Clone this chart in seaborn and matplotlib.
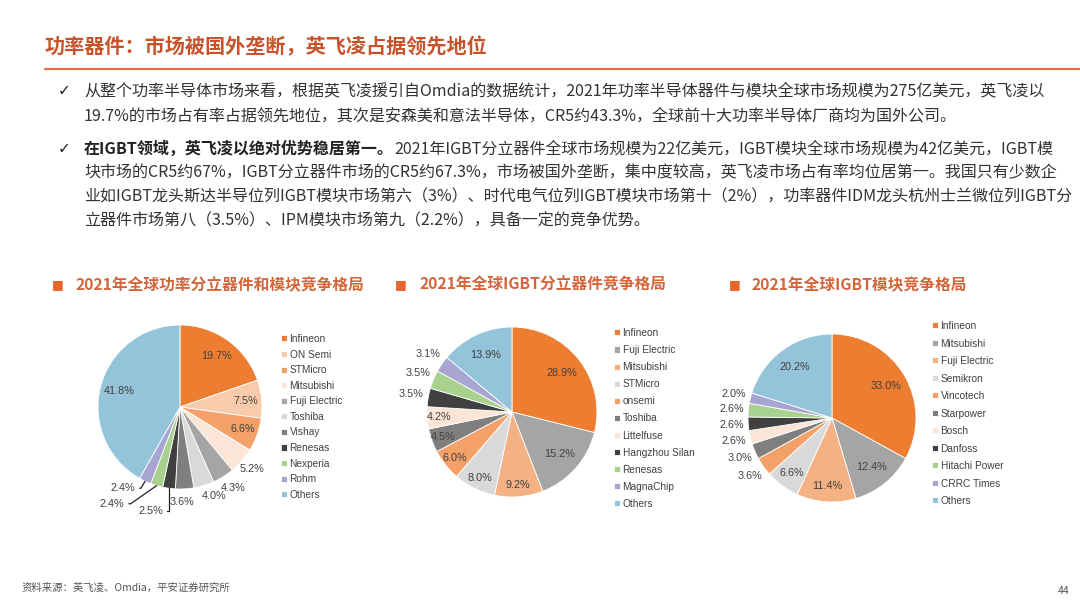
import numpy as np
import matplotlib
matplotlib.use("Agg")
import matplotlib.pyplot as plt
import seaborn as sns

# ---------------- data ----------------
title_text = "功率器件：市场被国外垄断，英飞凌占据领先地位"
bullet1_lines = [
    "从整个功率半导体市场来看，根据英飞凌援引自Omdia的数据统计，2021年功率半导体器件与模块全球市场规模为275亿美元，英飞凌以",
    "19.7%的市场占有率占据领先地位，其次是安森美和意法半导体，CR5约43.3%，全球前十大功率半导体厂商均为国外公司。",
]
bullet2_bold = "在IGBT领域，英飞凌以绝对优势稳居第一。"
bullet2_lines = [
    "2021年IGBT分立器件全球市场规模为22亿美元，IGBT模块全球市场规模为42亿美元，IGBT模",
    "块市场的CR5约67%，IGBT分立器件市场的CR5约67.3%，市场被国外垄断，集中度较高，英飞凌市场占有率均位居第一。我国只有少数企",
    "业如IGBT龙头斯达半导位列IGBT模块市场第六（3%）、时代电气位列IGBT模块市场第十（2%），功率器件IDM龙头杭州士兰微位列IGBT分",
    "立器件市场第八（3.5%）、IPM模块市场第九（2.2%），具备一定的竞争优势。",
]
chart_titles = [
    "2021年全球功率分立器件和模块竞争格局",
    "2021年全球IGBT分立器件竞争格局",
    "2021年全球IGBT模块竞争格局",
]

cats1 = ["Infineon", "ON Semi", "STMicro", "Mitsubishi", "Fuji Electric", "Toshiba",
         "Vishay", "Renesas", "Nexperia", "Rohm", "Others"]
vals1 = [19.7, 7.5, 6.6, 5.2, 4.3, 4.0, 3.6, 2.5, 2.4, 2.4, 41.8]

cats2 = ["Infineon", "Fuji Electric", "Mitsubishi", "STMicro", "onsemi", "Toshiba",
         "Littelfuse", "Hangzhou Silan", "Renesas", "MagnaChip", "Others"]
vals2 = [28.9, 15.2, 9.2, 8.0, 6.0, 4.5, 4.2, 3.5, 3.5, 3.1, 13.9]

cats3 = ["Infineon", "Mitsubishi", "Fuji Electric", "Semikron", "Vincotech", "Starpower",
         "Bosch", "Danfoss", "Hitachi Power", "CRRC Times", "Others"]
vals3 = [33.0, 12.4, 11.4, 6.6, 3.6, 3.0, 2.6, 2.6, 2.6, 2.0, 20.2]

source_text = "资料来源：英飞凌、Omdia，平安证券研究所"
page_no = "44"

# ---------------- style ----------------
sns.set_theme(style="white")
plt.rcParams['font.family'] = ['Noto Sans CJK SC', 'DejaVu Sans']

ORANGE = "#ED7D31"
PEACH_L = "#F8CBAD"
ORANGE_M = "#F3A168"
PALE = "#FBE5D6"
GRAY = "#A5A5A5"
LGRAY = "#D9D9D9"
MGRAY = "#7F7F7F"
DARK = "#404040"
GREEN = "#A9D18E"
LAV = "#A9A5D3"
BLUE = "#93C4D9"
PEACH = "#F4B183"

pal1 = sns.color_palette([ORANGE, PEACH_L, ORANGE_M, PALE, GRAY, LGRAY, MGRAY, DARK, GREEN, LAV, BLUE])
pal2 = sns.color_palette([ORANGE, GRAY, PEACH, LGRAY, ORANGE_M, MGRAY, PALE, DARK, GREEN, LAV, BLUE])
pal3 = pal2

W, H = 1080, 608
fig = plt.figure(figsize=(W / 100, H / 100), dpi=100)
fig.patch.set_facecolor("white")
renderer = fig.canvas.get_renderer()


def fx(x):
    return x / W


def fy(y):
    return 1 - y / H


TEXT_C = "#333333"
TITLE_C = "#C8532B"
HEAD_C = "#D4653A"

# title + rule
fig.text(fx(45), fy(47), title_text, fontsize=14.5, fontweight="bold", color=TITLE_C,
         ha="left", va="center")
fig.add_artist(plt.Line2D([fx(45), fx(1080)], [fy(69), fy(69)], color="#DD7046", lw=1.6))

# body text
line_y = [91, 116, 149, 173, 197, 221]
t0 = fig.text(fx(84), fy(line_y[0]), bullet1_lines[0], fontsize=12, color=TEXT_C,
              ha="left", va="center")
w0 = t0.get_window_extent(renderer).width
body_fs = 12 * 961 / w0
t0.set_fontsize(body_fs)
fig.text(fx(84), fy(line_y[1]), bullet1_lines[1], fontsize=body_fs, color=TEXT_C,
         ha="left", va="center")
tb = fig.text(fx(84), fy(line_y[2]), bullet2_bold, fontsize=body_fs, color="#222222",
              fontweight="bold", ha="left", va="center")
xb = tb.get_window_extent(renderer).x1
fig.text(xb / W, fy(line_y[2]), bullet2_lines[0], fontsize=body_fs, color=TEXT_C,
         ha="left", va="center")
for ln, yy in zip(bullet2_lines[1:], line_y[3:]):
    fig.text(fx(84), fy(yy), ln, fontsize=body_fs, color=TEXT_C, ha="left", va="center")
for yy in (line_y[0], line_y[2]):
    fig.text(fx(64), fy(yy), "✓", fontsize=11, color="#222222", family="DejaVu Sans",
             ha="center", va="center")

# chart headings
for (sx, tx), txt in zip([(58, 75), (401, 420), (735, 752)], chart_titles):
    fig.text(fx(sx), fy(285), "■", fontsize=9, color="#E8642A", family="DejaVu Sans",
             ha="center", va="center")
    fig.text(fx(tx), fy(285), txt, fontsize=11.3, fontweight="bold", color=HEAD_C,
             ha="left", va="center")

LBL_FAMILY = "Liberation Sans"
LBL_SIZE = 7.8


def draw_pie(cx, cy, r_px, vals, cats, pal, inside_min, big_min, d_big, d_small, d_out,
             legend_xy, legend_sp, special=None, nudge=None):
    half = 1.85 * r_px
    ax = fig.add_axes([fx(cx - half), fy(cy + half), 2 * half / W, 2 * half / H])
    wedges, _ = ax.pie(vals, colors=pal, startangle=90, counterclock=False, radius=1,
                       wedgeprops=dict(edgecolor="white", linewidth=0.6))
    lim = half / r_px
    ax.set_xlim(-lim, lim)
    ax.set_ylim(-lim, lim)
    ax.set_aspect("equal")
    ax.axis("off")
    ax.patch.set_visible(False)
    special = special or {}
    nudge = nudge or {}
    for i, (w, v) in enumerate(zip(wedges, vals)):
        ang = np.deg2rad((w.theta1 + w.theta2) / 2)
        c, s = np.cos(ang), np.sin(ang)
        lab = f"{v:.1f}%"
        if i in special:
            (tx, ty), conn = special[i]
            ax.annotate(lab, xy=(c, s), xytext=(tx, ty), ha="right", va="center",
                        color=DARK, fontfamily=LBL_FAMILY, fontsize=LBL_SIZE,
                        arrowprops=dict(arrowstyle="-", color="#222222", lw=0.9,
                                        connectionstyle=conn, shrinkA=1, shrinkB=0))
            continue
        if v >= inside_min:
            d = d_big if v >= big_min else d_small
        else:
            d = d_out
        ox, oy = nudge.get(i, (0.0, 0.0))
        ax.text(d * c + ox, d * s + oy, lab, ha="center", va="center", color=DARK,
                fontfamily=LBL_FAMILY, fontsize=LBL_SIZE)
    leg = ax.legend(wedges, cats, loc="upper left",
                    bbox_to_anchor=(fx(legend_xy[0]), fy(legend_xy[1])),
                    bbox_transform=fig.transFigure, frameon=False,
                    prop=dict(family="Liberation Sans", size=7.3),
                    handlelength=0.55, handleheight=0.55, handletextpad=0.3,
                    labelspacing=legend_sp, borderpad=0, borderaxespad=0)
    for t in leg.get_texts():
        t.set_color(DARK)
    return ax


special1 = {
    7: ((-0.21, -1.27), "angle,angleA=0,angleB=90,rad=0"),
    8: ((-0.68, -1.18), "angle,angleA=0,angleB=35,rad=0"),
    9: ((-0.55, -0.99), "angle,angleA=0,angleB=60,rad=0"),
}
nudge1 = {4: (0.03, 0.0), 5: (0.08, 0.03), 6: (-0.04, 0.0)}
draw_pie(180, 407, 82, vals1, cats1, pal1, 6.0, 10.0, 0.77, 0.81, 1.16,
         (281, 334), 0.55, special1, nudge1)
draw_pie(512, 412, 85, vals2, cats2, pal2, 4.2, 13.0, 0.74, 0.86, 1.2,
         (614, 328), 0.70)
draw_pie(832, 418, 84, vals3, cats3, pal3, 6.6, 12.0, 0.75, 0.81, 1.2,
         (932, 321), 0.74)

# footer
fig.text(fx(22), fy(588), source_text, fontsize=7.5, color="#555555", ha="left", va="center")
fig.text(fx(1070), fy(591), page_no, fontsize=7.5, color="#555555", ha="right", va="center")

fig.savefig("out.png", dpi=100, facecolor="white")
